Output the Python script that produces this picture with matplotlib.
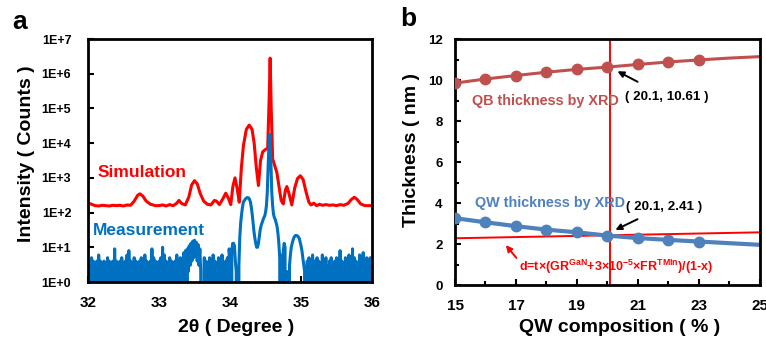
import numpy as np
import matplotlib
matplotlib.use("Agg")
import matplotlib.pyplot as plt
from matplotlib.ticker import FixedLocator

plt.rcParams["font.family"] = ["Liberation Sans", "DejaVu Sans"]
plt.rcParams["font.weight"] = "bold"
plt.rcParams["mathtext.fontset"] = "custom"
plt.rcParams["mathtext.rm"] = "Liberation Sans:bold"
plt.rcParams["mathtext.it"] = "Liberation Sans:bold"
plt.rcParams["mathtext.bf"] = "Liberation Sans:bold"

# ---- panel a : XRD simulation, log10(counts)
sim_theta = [32.00, 32.05, 32.10, 32.15, 32.20, 32.25, 32.30, 32.35, 32.40, 32.45,
             32.50, 32.55, 32.60, 32.65, 32.70, 32.73, 32.77, 32.82, 32.88, 32.95,
             33.00, 33.05, 33.10, 33.15, 33.20, 33.25, 33.28, 33.32, 33.37, 33.42,
             33.46, 33.50, 33.54, 33.58, 33.63, 33.68, 33.73, 33.78, 33.81, 33.85,
             33.90, 33.94, 33.98, 34.01, 34.04, 34.07, 34.10, 34.13, 34.16, 34.19,
             34.23, 34.27, 34.31, 34.34, 34.37, 34.40, 34.43, 34.46, 34.50, 34.53,
             34.55, 34.565, 34.58, 34.60, 34.63, 34.66, 34.69, 34.72, 34.75, 34.78,
             34.80, 34.83, 34.87, 34.91, 34.95, 34.99, 35.03, 35.07, 35.11, 35.14,
             35.18, 35.22, 35.26, 35.30, 35.35, 35.40, 35.45, 35.50, 35.55, 35.60,
             35.66, 35.71, 35.75, 35.79, 35.84, 35.90, 35.95, 36.00]
sim_log = [2.28, 2.24, 2.20, 2.19, 2.21, 2.20, 2.19, 2.21, 2.20, 2.21,
           2.19, 2.22, 2.21, 2.33, 2.50, 2.54, 2.48, 2.33, 2.24, 2.20,
           2.20, 2.22, 2.19, 2.23, 2.20, 2.27, 2.35, 2.26, 2.22, 2.45,
           2.80, 2.92, 2.82, 2.55, 2.33, 2.24, 2.22, 2.35, 2.33, 2.23,
           2.40, 2.56, 2.40, 2.23, 2.75, 3.00, 2.70, 2.30, 3.30, 3.95,
           4.40, 4.52, 4.40, 4.00, 3.30, 2.78, 3.50, 3.75, 3.82, 3.85,
           5.20, 6.45, 5.00, 3.55, 3.35, 3.15, 2.75, 2.35, 2.25, 2.65,
           2.75, 2.55, 2.22, 2.70, 2.98, 3.06, 2.95, 2.60, 2.30, 2.22,
           2.27, 2.20, 2.24, 2.21, 2.23, 2.21, 2.22, 2.20, 2.23, 2.21,
           2.26, 2.38, 2.44, 2.38, 2.25, 2.20, 2.20, 2.20]

# measured counts, evenly stepped 32.0 -> 36.0 (0.0125 deg), 16 points per row = 0.2 deg
meas_counts = [
    4, 0, 3, 0, 5, 1, 4, 0, 3, 0, 4, 0, 6, 0, 4, 1,
    3, 0, 4, 0, 3, 0, 5, 0, 4, 1, 3, 0, 4, 0, 9, 0,
    4, 0, 3, 1, 4, 0, 5, 0, 3, 0, 4, 0, 6, 0, 8, 0,
    4, 0, 3, 0, 5, 0, 4, 1, 3, 0, 4, 0, 5, 0, 4, 0,
    6, 0, 4, 0, 3, 0, 4, 0, 9, 0, 5, 0, 4, 1, 3, 0,
    4, 0, 5, 0, 10, 0, 6, 0, 4, 0, 3, 0, 5, 1, 4, 0,
    3, 0, 4, 0, 6, 0, 4, 0, 5, 0, 3, 0, 7, 0, 8, 0,
    9, 2, 11, 3, 13, 4, 15, 5, 16, 6, 14, 4, 12, 3, 9, 2,
    0, 0, 0, 5, 0, 4, 0, 3, 0, 5, 1, 4, 0, 6, 0, 4,
    0, 3, 0, 5, 0, 4, 0, 6, 0, 3, 0, 4, 1, 5, 0, 9,
    4, 0, 8, 13, 13, 11, 4, 2, 0, 0, 3, 20, 50, 89, 141, 200,
    219, 240, 257, 269, 269, 263, 240, 200, 141, 89, 50, 28, 18, 13, 10, 10,
    13, 20, 32, 42, 50, 60, 71, 79, 100, 158, 398, 2512, 10000, 17783, 3162, 398,
    158, 89, 71, 63, 50, 40, 25, 13, 5, 0, 6, 0, 8, 13, 10, 0,
    2, 0, 0, 3, 6, 10, 13, 16, 19, 21, 22, 22, 21, 20, 18, 14,
    11, 8, 5, 3, 2, 0, 0, 4, 0, 5, 0, 4, 0, 6, 0, 4,
    3, 0, 5, 0, 4, 0, 3, 0, 6, 0, 4, 1, 5, 0, 3, 0,
    4, 0, 5, 0, 3, 0, 4, 0, 5, 1, 3, 0, 8, 0, 4, 0,
    3, 0, 5, 0, 4, 0, 6, 0, 4, 0, 9, 0, 5, 0, 4, 1,
    3, 0, 6, 0, 4, 0, 7, 0, 4, 0, 5, 0, 3, 0, 5, 0,
    4]
meas_theta = np.linspace(32.0, 36.0, len(meas_counts))

# ---- panel b : thickness vs composition
comp_pts = [15, 16, 17, 18, 19, 20, 21, 22, 23]
comp_line = [15, 16, 17, 18, 19, 20, 21, 22, 23, 24, 25]
qb_line = [9.85, 10.05, 10.22, 10.38, 10.52, 10.63, 10.76, 10.88, 10.98, 11.07, 11.14]
qw_line = [3.26, 3.06, 2.87, 2.70, 2.57, 2.41, 2.29, 2.20, 2.12, 2.04, 1.96]
growth_x = [15, 25]
growth_d = [2.28, 2.57]
x_cross = 20.1

red = "#FF0000"
meas_blue = "#0070C0"
qb_col = "#C0504D"
qw_col = "#4F81BD"

fig = plt.figure(figsize=(7.66, 3.45), dpi=100)
ax1 = fig.add_axes([0.1149, 0.1826, 0.3708, 0.7043])
ax2 = fig.add_axes([0.594, 0.1739, 0.398, 0.713])

# panel a
ax1.plot(sim_theta, 10 ** np.array(sim_log), color=red, lw=2.2)
ax1.plot(meas_theta, meas_counts, color=meas_blue, lw=2.2)
ax1.set_yscale("log", nonpositive="clip")
ax1.set_xlim(32, 36)
ax1.set_ylim(1, 1e7)
ax1.yaxis.set_major_locator(FixedLocator([10.0 ** k for k in range(8)]))
ax1.yaxis.set_minor_locator(FixedLocator([]))
ax1.set_yticklabels(["1E+%d" % k for k in range(8)])
ax1.set_xticks([32, 33, 34, 35, 36])
ax1.tick_params(axis="y", direction="in", length=4, width=1.5, labelsize=9, pad=12)
ax1.tick_params(axis="x", direction="in", length=4, width=1.5, labelsize=11, pad=10)
ax1.set_ylabel("Intensity ( Counts )", fontsize=14, fontweight="bold")
ax1.set_xlabel("2θ ( Degree )", fontsize=14, fontweight="bold")
ax1.yaxis.set_label_coords(-0.187, 0.529)
ax1.xaxis.set_label_coords(0.521, -0.152)
ax1.text(32.14, 10 ** 3.15, "Simulation", color=red, fontsize=12.5, fontweight="bold", va="center")
ax1.text(32.07, 10 ** 1.48, "Measurement", color=meas_blue, fontsize=12.5, fontweight="bold", va="center")

# panel b
ax2.axvline(x_cross, color=red, lw=1.4, zorder=1)
ax2.plot(growth_x, growth_d, color=red, lw=1.4, zorder=1)
ax2.plot(comp_line, qb_line, color=qb_col, lw=2.2, zorder=2)
ax2.plot(comp_pts, qb_line[:len(comp_pts)], "o", color=qb_col, ms=7.5, zorder=3)
ax2.plot(comp_line, qw_line, color=qw_col, lw=3, zorder=2)
ax2.plot(comp_pts, qw_line[:len(comp_pts)], "o", color=qw_col, ms=7.5, zorder=3)
ax2.set_xlim(15, 25)
ax2.set_ylim(0, 12)
ax2.set_xticks([15, 17, 19, 21, 23, 25])
ax2.set_xticks(range(15, 26), minor=True)
ax2.set_yticks(range(0, 13, 2))
ax2.set_yticks(range(1, 12, 2), minor=True)
ax2.tick_params(which="both", direction="in", width=1.5)
ax2.tick_params(which="major", length=4)
ax2.tick_params(which="minor", length=3)
ax2.tick_params(axis="y", labelsize=9.5, pad=9)
ax2.tick_params(axis="x", labelsize=11, pad=10)
ax2.set_ylabel("Thickness ( nm )", fontsize=14, fontweight="bold")
ax2.set_xlabel("QW composition ( % )", fontsize=14, fontweight="bold")
ax2.yaxis.set_label_coords(-0.115, 0.549)
ax2.xaxis.set_label_coords(0.541, -0.138)

ax2.text(15.55, 9.0, "QB thickness by XRD", color=qb_col, fontsize=10.4, fontweight="bold", va="center")
ax2.text(20.57, 9.17, "( 20.1, 10.61 )", color="black", fontsize=9.6, fontweight="bold", va="center")
ax2.annotate("", xy=(20.25, 10.49), xytext=(21.07, 9.85),
             arrowprops=dict(arrowstyle="-|>", color="black", lw=1.4, mutation_scale=9))
ax2.text(15.65, 4.0, "QW thickness by XRD", color=qw_col, fontsize=10.4, fontweight="bold", va="center")
ax2.text(20.6, 3.8, "( 20.1, 2.41 )", color="black", fontsize=9.6, fontweight="bold", va="center")
ax2.annotate("", xy=(20.18, 2.63), xytext=(21.07, 3.27),
             arrowprops=dict(arrowstyle="-|>", color="black", lw=1.4, mutation_scale=9))
ax2.text(17.1, 0.88, "d=t×(GR$^{GaN}$+3×10$^{-5}$×FR$^{TMIn}$)/(1-x)", color=red,
         fontsize=9, fontweight="bold", va="center")
ax2.annotate("", xy=(16.61, 2.05), xytext=(17.07, 1.22),
             arrowprops=dict(arrowstyle="-|>", color=red, lw=1.4, mutation_scale=9))

for ax in (ax1, ax2):
    for s in ax.spines.values():
        s.set_linewidth(2)
    for lab in ax.get_xticklabels() + ax.get_yticklabels():
        lab.set_fontweight("bold")

fig.text(0.016, 0.935, "a", fontsize=19, fontweight="bold", va="center")
fig.text(0.522, 0.945, "b", fontsize=19, fontweight="bold", va="center")

fig.savefig("out.png", dpi=100)
